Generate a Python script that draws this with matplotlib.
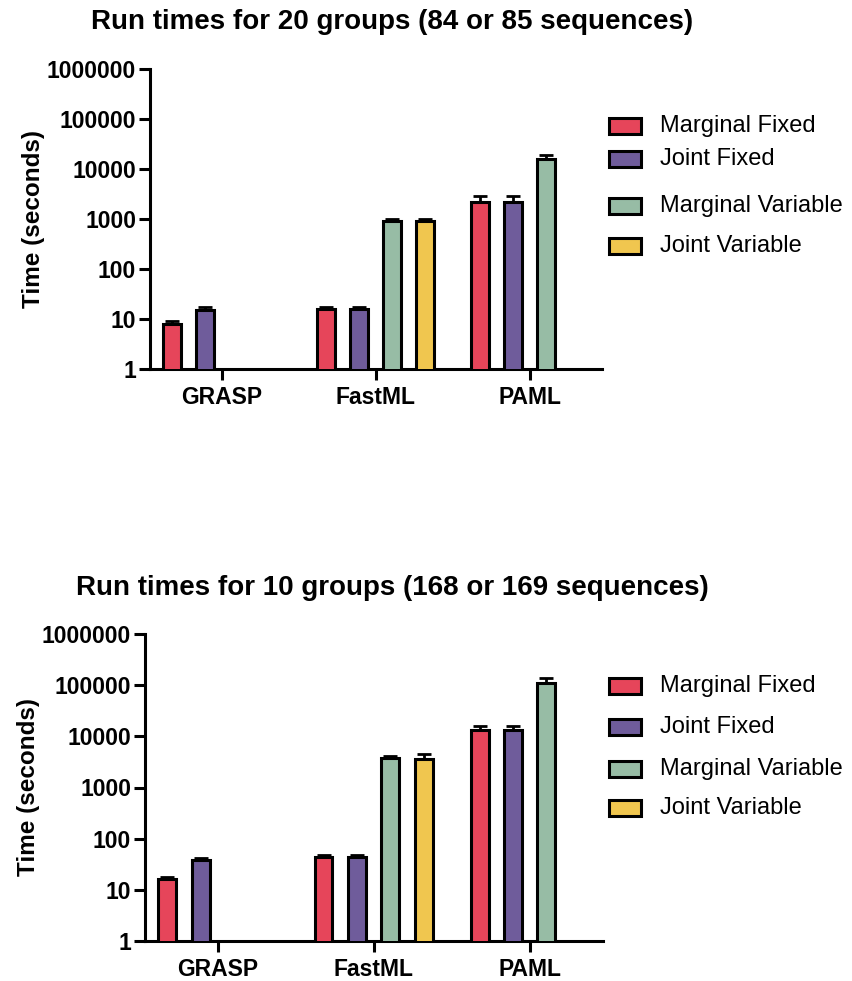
import numpy as np
import matplotlib
matplotlib.use('Agg')
import matplotlib.pyplot as plt
from matplotlib.patches import Rectangle
from matplotlib.ticker import FixedLocator, NullLocator

plt.rcParams['font.family'] = ['Liberation Sans', 'DejaVu Sans']

groups = ['GRASP', 'FastML', 'PAML']
series = ['Marginal Fixed', 'Joint Fixed', 'Marginal Variable', 'Joint Variable']
colors = ['#E6455A', '#6F5C9B', '#97BCA5', '#F0C64F']
nan = np.nan

# 20 groups (84 or 85 sequences): mean run time and upper error, seconds
top_mf = [8.0, 15.8, 2200]
top_jf = [14.9, 15.8, 2200]
top_mv = [nan, 933, 15900]
top_jv = [nan, 933, nan]
top_mf_err = [1.1, 1.8, 750]
top_jf_err = [2.4, 1.8, 750]
top_mv_err = [nan, 60, 2900]
top_jv_err = [nan, 60, nan]

# 10 groups (168 or 169 sequences)
bot_mf = [16, 43, 13200]
bot_jf = [38, 43, 13200]
bot_mv = [nan, 3800, 112000]
bot_jv = [nan, 3570, nan]
bot_mf_err = [1.5, 4, 2900]
bot_jf_err = [4.6, 4, 2900]
bot_mv_err = [nan, 300, 25000]
bot_jv_err = [nan, 1030, nan]

yticks = [1, 10, 100, 1000, 10000, 100000, 1000000]

W, H = 852, 981
fig = plt.figure(figsize=(W / 100, H / 100), dpi=100)


def draw_panel(rect, title, title_y, values, errors, legend_y):
    ax = fig.add_axes(rect)
    slot = 0.214
    width = 0.115
    offsets = [-1.5, -0.5, 0.5, 1.5]
    for i in range(4):
        v = np.array(values[i], dtype=float)
        e = np.array(errors[i], dtype=float)
        ok = ~np.isnan(v)
        x = np.arange(len(groups))[ok] + offsets[i] * slot
        ax.bar(x, v[ok], width=width, color=colors[i], edgecolor='black',
               linewidth=2.2, zorder=3,
               yerr=[np.zeros(ok.sum()), e[ok]],
               error_kw=dict(ecolor='black', elinewidth=2, capsize=5,
                             capthick=2, zorder=2))
    ax.set_yscale('log')
    ax.set_ylim(1, 1000000)
    ax.set_xlim(-0.465, 2.47)
    ax.yaxis.set_major_locator(FixedLocator(yticks))
    ax.yaxis.set_minor_locator(NullLocator())
    ax.set_yticklabels([str(t) for t in yticks], fontsize=16.5, fontweight='bold')
    ax.set_xticks(range(len(groups)))
    ax.set_xticklabels(groups, fontsize=16.5, fontweight='bold')
    ax.tick_params(axis='both', width=2.2, length=8, pad=2)
    ax.tick_params(axis='x', pad=4)
    for side in ['top', 'right']:
        ax.spines[side].set_visible(False)
    for side in ['left', 'bottom']:
        ax.spines[side].set_linewidth(2.2)
    ax.set_ylabel('Time (seconds)', fontsize=17.5, fontweight='bold', labelpad=1)
    fig.text(392 / W, 1 - title_y / H, title, ha='center', va='center',
             fontsize=20, fontweight='bold')

    # legend swatches and labels
    for i, y in enumerate(legend_y):
        fig.patches.append(Rectangle((609 / W, 1 - (y + 8) / H), 32 / W, 16 / H,
                                     transform=fig.transFigure, facecolor=colors[i],
                                     edgecolor='black', linewidth=2.2))
        fig.text(660 / W, 1 - y / H, series[i], ha='left', va='center', fontsize=17)
    return ax


draw_panel([150 / W, 1 - 369 / H, 452 / W, 300 / H],
           'Run times for 20 groups (84 or 85 sequences)', 22,
           [top_mf, top_jf, top_mv, top_jv],
           [top_mf_err, top_jf_err, top_mv_err, top_jv_err],
           [126, 159, 206, 246])

draw_panel([145 / W, 1 - 941 / H, 458 / W, 307 / H],
           'Run times for 10 groups (168 or 169 sequences)', 588,
           [bot_mf, bot_jf, bot_mv, bot_jv],
           [bot_mf_err, bot_jf_err, bot_mv_err, bot_jv_err],
           [686, 727, 769, 808])

fig.savefig('out.png', dpi=100)
